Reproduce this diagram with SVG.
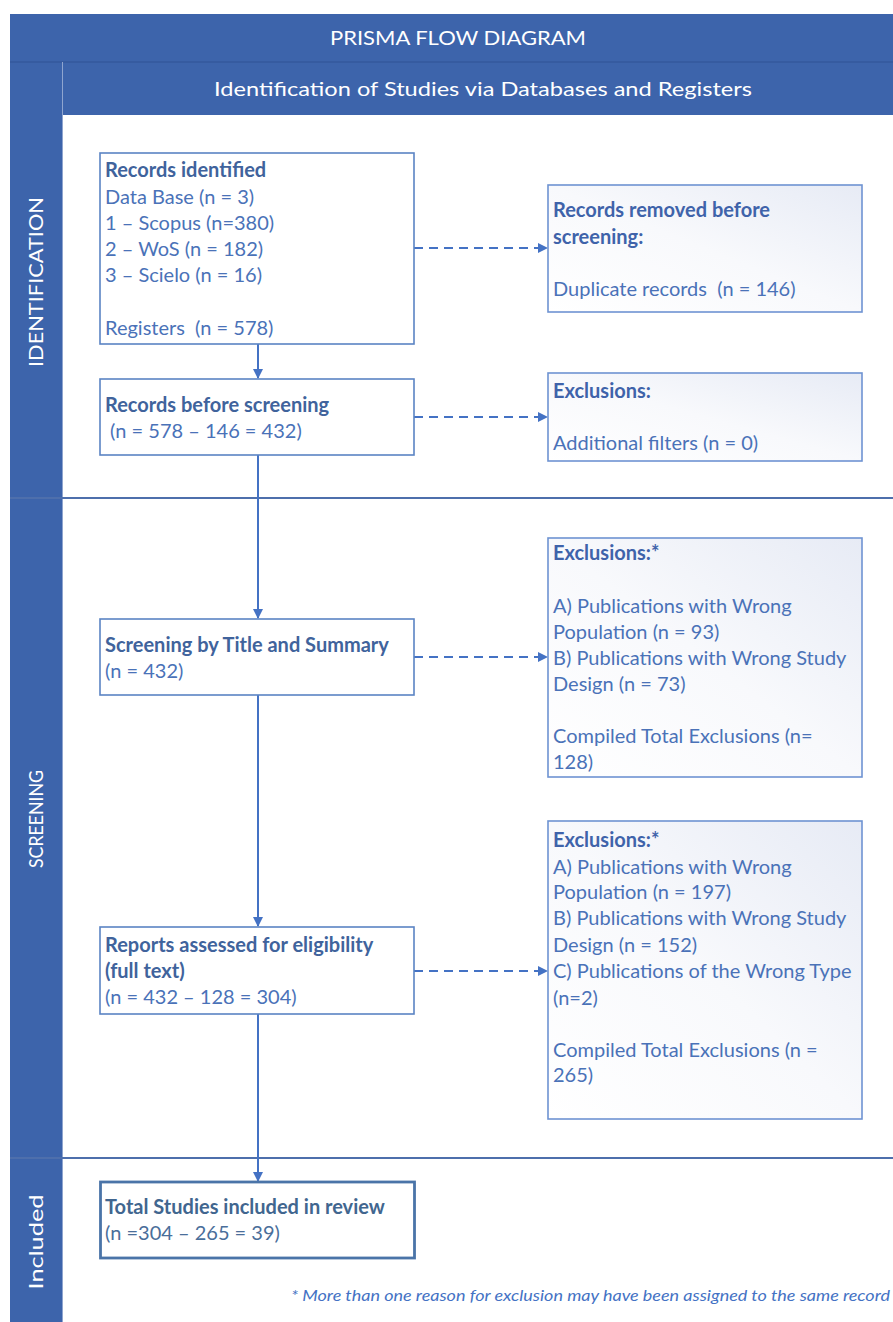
<svg xmlns="http://www.w3.org/2000/svg" width="893" height="1322" viewBox="0 0 893 1322">
<style>
.band{fill:#3D64AB}
.hdr{font-family:Lato,"Open Sans",sans-serif;fill:#ffffff;font-size:20px}
.side{font-family:Lato,"Open Sans",sans-serif;fill:#ffffff;font-size:20px}
.box{fill:#ffffff;stroke:#5B84C4;stroke-width:1.6}
.rbox{fill:url(#g);stroke:#6E93D2;stroke-width:1.6}
.t{font-family:Lato,"Open Sans",sans-serif;font-size:20px;fill:#4A72B8}
.b{font-weight:bold;fill:#40639C}
.rb{font-weight:bold;fill:#3F63AA}
.conn{stroke:#4472C4;stroke-width:2;fill:none}
.dash{stroke:#4472C4;stroke-width:2;fill:none;stroke-dasharray:9 6}
.div{stroke:#4E6FAC;stroke-width:2}
</style>
<defs>
<linearGradient id="g" x1="0" y1="1" x2="1" y2="0">
<stop offset="0" stop-color="#ffffff"/>
<stop offset="0.5" stop-color="#f8f9fc"/>
<stop offset="1" stop-color="#e7ebf5"/>
</linearGradient>
<marker id="ah" markerWidth="10" markerHeight="10" refX="9" refY="5" orient="auto" markerUnits="userSpaceOnUse">
<path d="M0,0 L10,5 L0,10 z" fill="#4472C4"/>
</marker>
</defs>

<g id="frame">
<rect class="band" x="10" y="14" width="883" height="48"/>
<rect class="band" x="10" y="62" width="52" height="1260"/>
<rect class="band" x="62" y="62" width="831" height="53"/>
<line x1="10" y1="62" x2="893" y2="62" stroke="#34599C" stroke-width="1.5"/>
<line x1="62.5" y1="62" x2="62.5" y2="1322" stroke="#8FA5CF" stroke-width="1"/>
<line class="div" x1="10" y1="498" x2="893" y2="498"/>
<line class="div" x1="10" y1="1158" x2="893" y2="1158"/>
<text class="hdr" x="458" y="45" text-anchor="middle" textLength="256" lengthAdjust="spacingAndGlyphs">PRISMA FLOW DIAGRAM</text>
<text class="hdr" x="483" y="96" text-anchor="middle" textLength="538" lengthAdjust="spacingAndGlyphs">Identification of Studies via Databases and Registers</text>
<text class="side" transform="translate(43,282) rotate(-90)" text-anchor="middle" textLength="170" lengthAdjust="spacingAndGlyphs">IDENTIFICATION</text>
<text class="side" transform="translate(43,819) rotate(-90)" text-anchor="middle" textLength="98" lengthAdjust="spacingAndGlyphs">SCREENING</text>
<text class="side" transform="translate(43,1242) rotate(-90)" text-anchor="middle" textLength="95" lengthAdjust="spacingAndGlyphs">Included</text>
</g>

<g id="connectors">
<line class="conn" x1="258" y1="344" x2="258" y2="378" marker-end="url(#ah)"/>
<line class="conn" x1="258" y1="455" x2="258" y2="618" marker-end="url(#ah)"/>
<line class="conn" x1="258" y1="695" x2="258" y2="926" marker-end="url(#ah)"/>
<line class="conn" x1="258" y1="1014" x2="258" y2="1181" marker-end="url(#ah)"/>
<line class="dash" x1="414" y1="248" x2="547" y2="248" marker-end="url(#ah)"/>
<line class="dash" x1="414" y1="417" x2="547" y2="417" marker-end="url(#ah)"/>
<line class="dash" x1="414" y1="657" x2="547" y2="657" marker-end="url(#ah)"/>
<line class="dash" x1="414" y1="971" x2="547" y2="971" marker-end="url(#ah)"/>
</g>

<g id="n-records-identified">
<rect class="box" x="100" y="153" width="314" height="191"/>
<text class="t" x="105" y="177"><tspan class="b">Records identified</tspan>
<tspan x="105" y="204">Data Base (n = 3)</tspan>
<tspan x="105" y="230">1 – Scopus (n=380)</tspan>
<tspan x="105" y="256">2 – WoS (n = 182)</tspan>
<tspan x="105" y="282">3 – Scielo (n = 16)</tspan>
<tspan x="105" y="335" xml:space="preserve">Registers  (n = 578)</tspan></text>
</g>

<g id="n-records-before">
<rect class="box" x="100" y="379" width="314" height="76"/>
<text class="t" x="105" y="412"><tspan class="b">Records before screening</tspan>
<tspan x="105" y="438" xml:space="preserve"> (n = 578 – 146 = 432)</tspan></text>
</g>

<g id="n-screening">
<rect class="box" x="100" y="619" width="314" height="76"/>
<text class="t" x="105" y="652"><tspan class="b">Screening by Title and Summary</tspan>
<tspan x="105" y="678">(n = 432)</tspan></text>
</g>

<g id="n-reports">
<rect class="box" x="100" y="927" width="314" height="87"/>
<text class="t" x="105" y="952"><tspan class="b">Reports assessed for eligibility</tspan>
<tspan x="105" y="978" class="b">(full text)</tspan>
<tspan x="105" y="1004">(n = 432 – 128 = 304)</tspan></text>
</g>

<g id="n-included">
<rect x="100.5" y="1182" width="314" height="76" fill="#ffffff" stroke="#4A74A8" stroke-width="2.8"/>
<text class="t" x="105" y="1214" fill="#4A6E9A"><tspan font-weight="bold" fill="#41668F">Total Studies included in review</tspan>
<tspan x="105" y="1240" fill="#4A6E9A">(n =304 – 265 = 39)</tspan></text>
</g>

<g id="n-removed">
<rect class="rbox" x="548" y="185" width="314" height="127"/>
<text class="t" x="553" y="217"><tspan class="rb">Records removed before</tspan>
<tspan x="553" y="244" class="rb">screening:</tspan>
<tspan x="553" y="296" xml:space="preserve">Duplicate records  (n = 146)</tspan></text>
</g>

<g id="n-excl-1">
<rect class="rbox" x="548" y="373" width="314" height="88"/>
<text class="t" x="553" y="398"><tspan class="rb">Exclusions:</tspan>
<tspan x="553" y="450">Additional filters (n = 0)</tspan></text>
</g>

<g id="n-excl-2">
<rect class="rbox" x="548" y="538" width="314" height="239"/>
<text class="t" x="553" y="560"><tspan class="rb">Exclusions:*</tspan>
<tspan x="553" y="613">A) Publications with Wrong</tspan>
<tspan x="553" y="639">Population (n = 93)</tspan>
<tspan x="553" y="665">B) Publications with Wrong Study</tspan>
<tspan x="553" y="691">Design (n = 73)</tspan>
<tspan x="553" y="743">Compiled Total Exclusions (n=</tspan>
<tspan x="553" y="769">128)</tspan></text>
</g>

<g id="n-excl-3">
<rect class="rbox" x="548" y="821" width="314" height="298"/>
<text class="t" x="553" y="847"><tspan class="rb">Exclusions:*</tspan>
<tspan x="553" y="874">A) Publications with Wrong</tspan>
<tspan x="553" y="899">Population (n = 197)</tspan>
<tspan x="553" y="925">B) Publications with Wrong Study</tspan>
<tspan x="553" y="952">Design (n = 152)</tspan>
<tspan x="553" y="978">C) Publications of the Wrong Type</tspan>
<tspan x="553" y="1005">(n=2)</tspan>
<tspan x="553" y="1057">Compiled Total Exclusions (n =</tspan>
<tspan x="553" y="1082">265)</tspan></text>
</g>

<g id="footnote">
<text x="890" y="1301" text-anchor="end" font-family="Lato,'Open Sans',sans-serif" font-style="italic" font-size="14.5" fill="#4472C4" textLength="599" lengthAdjust="spacingAndGlyphs">* More than one reason for exclusion may have been assigned to the same record</text>
</g>
</svg>
